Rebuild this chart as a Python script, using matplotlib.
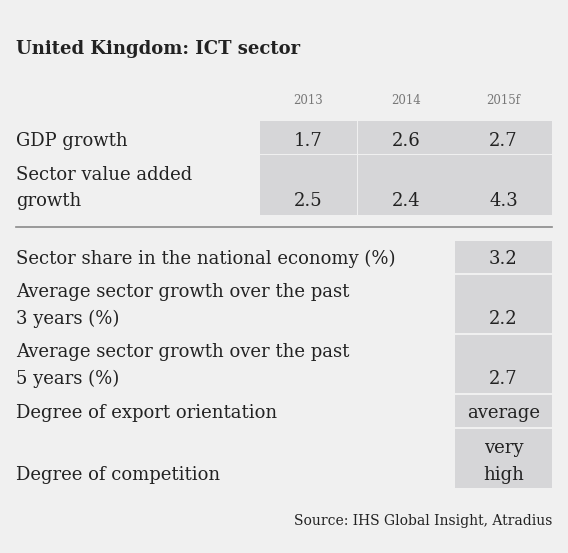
import matplotlib
matplotlib.use("Agg")
import matplotlib.pyplot as plt
from matplotlib.patches import Rectangle

title = "United Kingdom: ICT sector"
years = ["2013", "2014", "2015f"]
top_labels = ["GDP growth", "Sector value added\ngrowth"]
top_values = [["1.7", "2.6", "2.7"], ["2.5", "2.4", "4.3"]]
bottom_labels = [
    "Sector share in the national economy (%)",
    "Average sector growth over the past\n3 years (%)",
    "Average sector growth over the past\n5 years (%)",
    "Degree of export orientation",
    "Degree of competition",
]
bottom_values = ["3.2", "2.2", "2.7", "average", "very\nhigh"]
source = "Source: IHS Global Insight, Atradius"

BG = "#f0f0f0"
CELL = "#d6d6d8"
TXT = "#222222"
FONT = ["DejaVu Serif"]
FS = 13.0
LS = 1.62

fig = plt.figure(figsize=(5.68, 5.53), dpi=100, facecolor=BG)
ax = fig.add_axes([0, 0, 1, 1])
ax.set_xlim(0, 568)
ax.set_ylim(553, 0)
ax.axis("off")
ax.set_facecolor(BG)

left = 16
ax.text(left, 49, title, fontsize=13.0, fontweight="bold", family=FONT,
        color=TXT, va="center", ha="left")

col_x = [260, 358, 455]
col_w = 97
for x, y in zip(col_x, years):
    ax.text(x + col_w / 2, 100, y, fontsize=8.5, family=FONT, color="#777777",
            ha="center", va="center")

top_rows = [(121, 154), (155, 215)]
pad = 8.5
for (t, b), lab, vals in zip(top_rows, top_labels, top_values):
    for x, v in zip(col_x, vals):
        ax.add_patch(Rectangle((x, t), col_w, b - t, facecolor=CELL, edgecolor="none"))
        ax.text(x + col_w / 2, b - pad, v, fontsize=FS, family=FONT, color=TXT,
                ha="center", va="baseline")
    ax.text(left, b - pad, lab, fontsize=FS, family=FONT, color=TXT,
            ha="left", va="baseline", linespacing=LS)

ax.plot([left, 552], [227, 227], color="#8a8a8a", lw=1.2)

bottom_rows = [(241, 273), (275, 333), (335, 393), (395, 427), (429, 488)]
for (t, b), lab, v in zip(bottom_rows, bottom_labels, bottom_values):
    ax.add_patch(Rectangle((455, t), col_w, b - t, facecolor=CELL, edgecolor="none"))
    ax.text(455 + col_w / 2, b - pad, v, fontsize=FS, family=FONT, color=TXT,
            ha="center", va="baseline", linespacing=LS)
    ax.text(left, b - pad, lab, fontsize=FS, family=FONT, color=TXT,
            ha="left", va="baseline", linespacing=LS)

ax.text(552, 521, source, fontsize=10.0, family=FONT, color=TXT,
        ha="right", va="center")

fig.savefig("out.png", dpi=100, facecolor=BG)
